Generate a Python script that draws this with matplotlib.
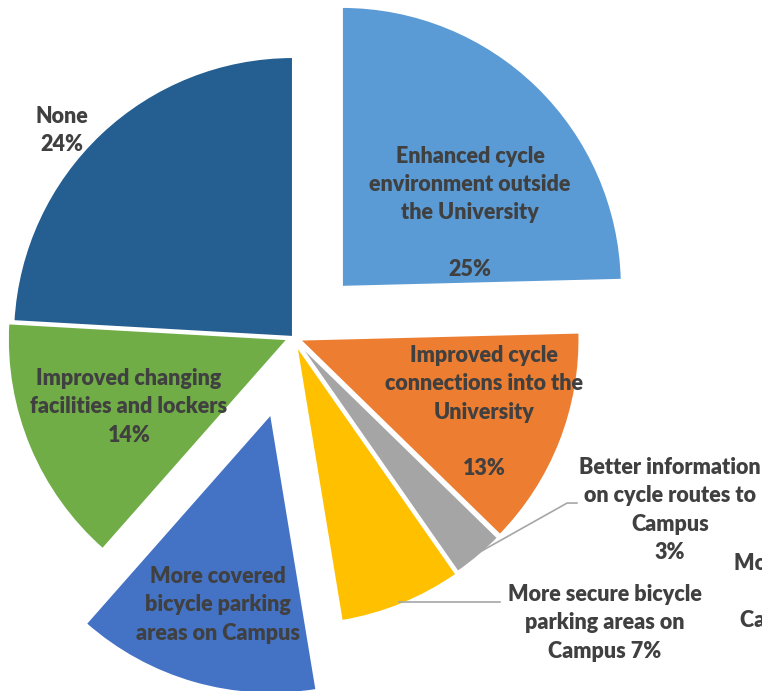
import numpy as np
import matplotlib
matplotlib.use("Agg")
import matplotlib.pyplot as plt

# slice data, clockwise from 12 o'clock
labels = ['Enhanced cycle\nenvironment outside\nthe University\n',
          'Improved cycle\nconnections into the\nUniversity\n',
          'Better information\non cycle routes to\nCampus',
          'More secure bicycle\nparking areas on\nCampus',
          'More covered\nbicycle parking\nareas on Campus',
          'Improved changing\nfacilities and lockers',
          'None']
values = [24.6, 12.7, 3.0, 7.1, 14.1, 14.4, 24.1]
show_pct = [True, True, True, True, False, True, True]
pct_sep = ['\n', '\n', '\n', ' ', '', '\n', '\n']
colors = ['#5B9BD5', '#ED7D31', '#A5A5A5', '#FFC000', '#4472C4', '#70AD47', '#255E91']
explode = [0.25, 0.025, 0.025, 0.03, 0.285, 0.02, 0.0]

# label centres (data units, pie radius = 1)
label_pos = [(0.632, 0.443), (0.682, -0.268), (1.346, -0.618), (1.114, -1.021),
             (-0.268, -0.957), (-0.586, -0.25), (-0.825, 0.739)]
leader = {2: [(0.979, -0.593), (1.014, -0.593)],
          3: [(0.739, -0.946)]}

text_color = '#404040'
plt.rcParams['font.family'] = ['Lato', 'DejaVu Sans']

fig = plt.figure(figsize=(7.62, 6.91), dpi=100)
ax = fig.add_axes([0, 0, 1, 1])
wedges, _ = ax.pie(values, colors=colors, explode=explode, startangle=90,
                   counterclock=False, radius=1.0,
                   wedgeprops=dict(edgecolor='white', linewidth=1.5))

total = sum(values)
for i, w in enumerate(wedges):
    txt = labels[i]
    if show_pct[i]:
        txt += pct_sep[i] + f'{round(values[i] / total * 100):.0f}%'
    x, y = label_pos[i]
    ax.text(x, y, txt, ha='center', va='center', multialignment='center',
            fontsize=15.5, fontweight='heavy', color=text_color, linespacing=1.42)
    if i in leader:
        mid = np.deg2rad((w.theta1 + w.theta2) / 2)
        cx, cy = w.center
        r = 0.97 if i == 3 else 0.99
        pts = [(cx + r * np.cos(mid), cy + r * np.sin(mid))] + leader[i]
        if i == 3:
            pts[0] = (pts[0][0], leader[i][0][1])
        xs, ys = zip(*pts)
        ax.plot(xs, ys, color='#A6A6A6', lw=1.2)

# partly hidden label at the right edge
ax.text(1.8, -0.911, 'More bicycle\nhire on\nCampus 0%', ha='center', va='center',
        fontsize=15.5, fontweight='heavy', color=text_color, linespacing=1.42)

ax.set_xlim(-293 / 280, (762 - 293) / 280)
ax.set_ylim(-(691 - 337) / 280, 337 / 280)
ax.set_aspect('equal')
ax.axis('off')

fig.savefig('out.png', dpi=100, facecolor='white')
